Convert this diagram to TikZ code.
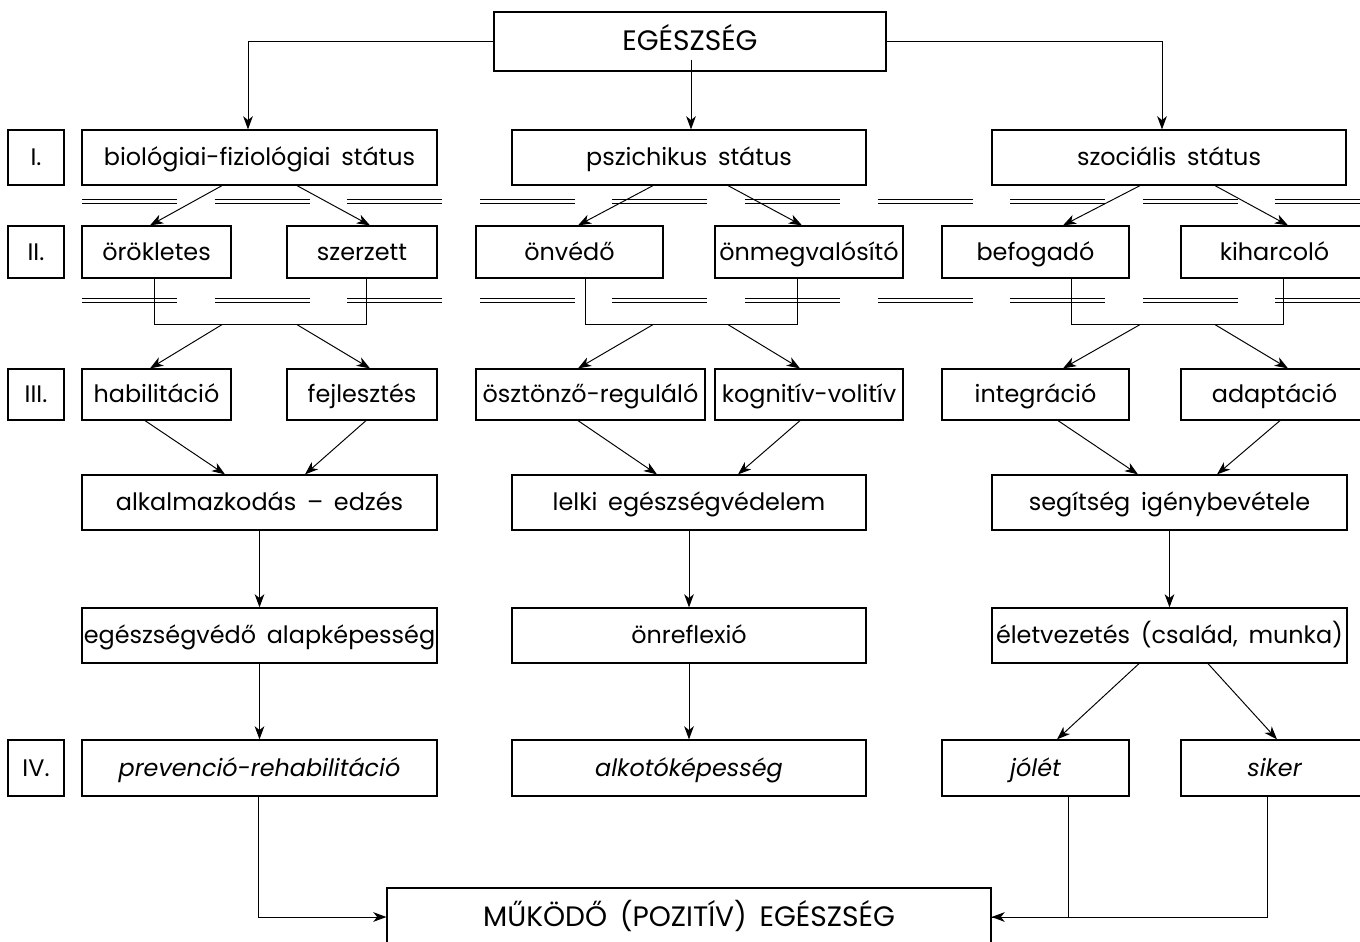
\documentclass[tikz,border=0pt]{standalone}
\usepackage{fontspec}
\setmainfont{Poppins}
\usepackage{tikz}
\usetikzlibrary{calc,arrows.meta}
\newcommand{\wsp}{\hspace{.45em}}
\tikzset{
	box/.style={draw, line width=0.7pt, inner sep=0pt, minimum height=1.1cm, text height=0.95em, text depth=0pt, font=\fontsize{13.6}{15}\selectfont},
	caps/.style={box, text height=1.05em, font=\fontsize{16}{18}\selectfont},
	num/.style={box, minimum width=1.12cm},
	arr/.style={line width=0.55pt, -{Stealth[length=7.5pt, width=5.5pt, inset=2.2pt]}},
	conn/.style={line width=0.55pt},
	dbl/.style={double, double distance=1.4pt, line width=0.5pt},
}

\begin{document}
\begin{tikzpicture}[x=0.02cm, y=-0.02cm]
			%%%%% START %%%%%
			\useasboundingbox (0,0) rectangle (1360,941);
			\clip (0,0) rectangle (1360,941);
			
			\foreach \i in {0,...,9} {
				\draw[dbl] ({82+132.6*\i},201.5) -- ++(95,0);
				\draw[dbl] ({82+132.6*\i},300.5) -- ++(95,0);
			}
			
			\node[caps, minimum width=7.84cm, minimum height=1.18cm] (egeszseg) at (690,41.5) {EGÉSZSÉG};
			
			\node[num] (n1) at (36,157.5) {I.};
			\node[box, minimum width=7.1cm] (bio) at (259.5,157.5) {biológiai-fiziológiai\wsp státus};
			\node[box, minimum width=7.08cm] (psz) at (689,157.5) {pszichikus\wsp státus};
			\node[box, minimum width=7.08cm] (szoc) at (1169,157.5) {szociális\wsp státus};
			
			\node[num, minimum height=1.04cm] (n2) at (36,252) {II.};
			\node[box, minimum width=2.98cm, minimum height=1.04cm] (orok) at (156.5,252) {örökletes};
			\node[box, minimum width=3cm, minimum height=1.04cm] (szerz) at (362,252) {szerzett};
			\node[box, minimum width=3.74cm, minimum height=1.04cm] (onved) at (569.5,252) {önvédő};
			\node[box, minimum width=3.76cm, minimum height=1.04cm] (onmeg) at (809,252) {önmegvalósító};
			\node[box, minimum width=3.74cm, minimum height=1.04cm] (befog) at (1035.5,252) {befogadó};
			\node[box, minimum width=3.74cm, minimum height=1.04cm] (kiharc) at (1274.5,252) {kiharcoló};
			
			\node[num, minimum height=1.02cm] (n3) at (36,394.5) {III.};
			\node[box, minimum width=2.98cm, minimum height=1.02cm] (hab) at (156.5,394.5) {habilitáció};
			\node[box, minimum width=3cm, minimum height=1.02cm] (fejl) at (362,394.5) {fejlesztés};
			\node[box, minimum width=4.58cm, minimum height=1.02cm] (oszt) at (590.5,394.5) {ösztönző-reguláló};
			\node[box, minimum width=3.76cm, minimum height=1.02cm] (kogn) at (809,394.5) {kognitív-volitív};
			\node[box, minimum width=3.74cm, minimum height=1.02cm] (integr) at (1035.5,394.5) {integráció};
			\node[box, minimum width=3.74cm, minimum height=1.02cm] (adapt) at (1274.5,394.5) {adaptáció};
			
			\node[box, minimum width=7.1cm] (alk) at (259.5,502.5) {alkalmazkodás\wsp --\wsp edzés};
			\node[box, minimum width=7.08cm] (lelki) at (689,502.5) {lelki\wsp egészségvédelem};
			\node[box, minimum width=7.1cm] (segits) at (1169.5,502.5) {segítség\wsp igénybevétele};
			
			\node[box, minimum width=7.1cm] (egvedo) at (259.5,635.5) {egészségvédő\wsp alapképesség};
			\node[box, minimum width=7.08cm] (onrefl) at (689,635.5) {önreflexió};
			\node[box, minimum width=7.1cm] (eletvez) at (1169.5,635.5) {életvezetés\wsp (család,\wsp munka)};
			
			\node[num, minimum height=1.12cm] (n4) at (36,768) {IV.};
			\node[box, minimum width=7.1cm, minimum height=1.12cm] (prev) at (259.5,768) {\itshape prevenció-rehabilitáció};
			\node[box, minimum width=7.08cm, minimum height=1.12cm] (alkot) at (689,768) {\itshape alkotóképesség};
			\node[box, minimum width=3.74cm, minimum height=1.12cm] (jolet) at (1035.5,768) {\itshape jólét};
			\node[box, minimum width=3.74cm, minimum height=1.12cm] (siker) at (1274.5,768) {\itshape siker};
			
			\node[caps, minimum width=12.08cm, minimum height=1.16cm] (mukodo) at (689,917) {MŰKÖDŐ\wsp (POZITÍV)\wsp EGÉSZSÉG};
			
			% top level
			\draw[arr] (egeszseg.west) -| ($(bio.north)+(-11.5,0)$);
			\draw[arr] (egeszseg.east) -| ($(szoc.north)+(-7,0)$);
			\draw[arr] ($(egeszseg.south)+(1,-12)$) -- ($(psz.north)+(2,0)$);
			
			\draw[arr] ($(bio.south)+(-37.5,0)$) -- ($(orok.north)+(-6.5,0)$);
			\draw[arr] ($(bio.south)+(37.5,0)$) -- ($(szerz.north)+(8,0)$);
			\draw[arr] ($(psz.south)+(-36,0)$) -- ($(onved.north)+(8.5,0)$);
			\draw[arr] ($(psz.south)+(39,0)$) -- ($(onmeg.north)+(-7,0)$);
			\draw[arr] ($(szoc.south)+(-29,0)$) -- ($(befog.north)+(27.5,0)$);
			\draw[arr] ($(szoc.south)+(46,0)$) -- ($(kiharc.north)+(13.5,0)$);
			
			% joins under row II
			\coordinate (jbio) at ($(bio.south)+(0,139)$);
			\coordinate (jpsz) at ($(psz.south)+(0,139)$);
			\coordinate (jszoc) at ($(szoc.south)+(0,139)$);
			\draw[conn] ($(orok.south)+(-2.5,0)$) |- (jbio) -| ($(szerz.south)+(4,0)$);
			\draw[conn] ($(onved.south)+(15.5,0)$) |- (jpsz) -| ($(onmeg.south)+(-12,0)$);
			\draw[conn] ($(befog.south)+(35.5,0)$) |- (jszoc) -| ($(kiharc.south)+(8.5,0)$);
			
			\draw[arr] ($(jbio)+(-37.5,0)$) -- ($(hab.north)+(-6.5,0)$);
			\draw[arr] ($(jbio)+(37.5,0)$) -- ($(fejl.north)+(8,0)$);
			\draw[arr] ($(jpsz)+(-36,0)$) -- ($(oszt.north)+(-12.5,0)$);
			\draw[arr] ($(jpsz)+(39,0)$) -- ($(kogn.north)+(-9,0)$);
			\draw[arr] ($(jszoc)+(-29,0)$) -- ($(integr.north)+(27.5,0)$);
			\draw[arr] ($(jszoc)+(46,0)$) -- ($(adapt.north)+(13.5,0)$);
			
			\draw[arr] ($(hab.south)+(-11.5,0)$) -- ($(alk.north)+(-34.5,0)$);
			\draw[arr] ($(fejl.south)+(4,0)$) -- ($(alk.north)+(45.5,0)$);
			\draw[arr] ($(oszt.south)+(-12.5,0)$) -- ($(lelki.north)+(-32,0)$);
			\draw[arr] ($(kogn.south)+(-9,0)$) -- ($(lelki.north)+(49,0)$);
			\draw[arr] ($(integr.south)+(22.5,0)$) -- ($(segits.north)+(-31.5,0)$);
			\draw[arr] ($(adapt.south)+(5.5,0)$) -- ($(segits.north)+(47.5,0)$);
			
			\draw[arr] (alk) -- (egvedo);
			\draw[arr] (egvedo) -- (prev);
			\draw[arr] (lelki) -- (onrefl);
			\draw[arr] (onrefl) -- (alkot);
			\draw[arr] (segits) -- (eletvez);
			\draw[arr] ($(eletvez.south)+(-30.5,0)$) -- ($(jolet.north)+(21.5,0)$);
			\draw[arr] ($(eletvez.south)+(38.5,0)$) -- ($(siker.north)+(2.5,0)$);
			
			% bottom
			\draw[arr] ($(prev.south)+(-1.5,0)$) |- (mukodo.west);
			\draw[conn] ($(jolet.south)+(32.5,0)$) |- (mukodo.east);
			\draw[arr] ($(siker.south)+(-7.5,0)$) |- (mukodo.east);
			
			%%%%% END %%%%%
\end{tikzpicture}
\end{document}
